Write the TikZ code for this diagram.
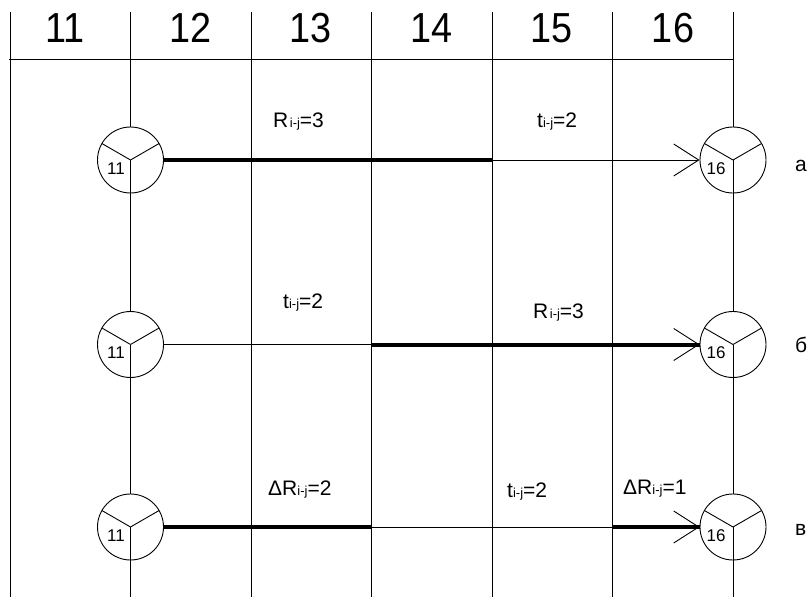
\documentclass[tikz,border=0pt]{standalone}
\usepackage{fontspec}
\setmainfont{Liberation Sans}
\newfontfamily\hdrfont[FakeStretch=0.9]{Liberation Sans}
\usetikzlibrary{arrows.meta}
\newcommand{\subij}{{\fontsize{13}{13}\selectfont i-j}}
\begin{document}
\begin{tikzpicture}[x=1pt,y=-1pt,
  gridline/.style={line width=0.9pt},
  ev/.style={circle, draw, line width=0.9pt, fill=white, minimum size=66pt, inner sep=0pt},
  thinarc/.style={line width=0.9pt},
  thickarc/.style={line width=4pt},
  arr/.style={-{Straight Barb[length=25pt,width=32pt]}},
  lab/.style={anchor=base west, inner sep=0pt, font=\fontsize{21}{21}\selectfont},
  hdr/.style={anchor=base, inner sep=0pt, font=\hdrfont\fontsize{42}{42}\selectfont},
  num/.style={anchor=base, inner sep=0pt, font=\fontsize{17}{17}\selectfont}]
\useasboundingbox (0,0) rectangle (809,597);
% grid
\foreach \x in {10,130.5,251,371.5,492,612.5,733}
  \draw[gridline] (\x,12) -- (\x,597);
\draw[gridline] (9,59) -- (734,59);
% header
\node[hdr] (h11) at (65,42.7) {11};
\node[hdr] (h12) at (190.5,42.7) {12};
\node[hdr] (h13) at (311,42.7) {13};
\node[hdr] (h14) at (431.5,42.7) {14};
\node[hdr] (h15) at (552,42.7) {15};
\node[hdr] (h16) at (673,42.7) {16};
% events
\foreach \r/\y in {a/160,b/344.5,c/527}{
  \node[ev] (l\r) at (130.5,\y) {};
  \node[ev] (r\r) at (733,\y) {};
  \foreach \n in {l\r,r\r}{
    \draw[thinarc] (\n.center) -- ++(-28.6,-16.5);
    \draw[thinarc] (\n.center) -- ++(28.6,-16.5);
    \draw[thinarc] (\n.center) -- ++(0,33);
  }
  \node[num] (tl\r) at ([xshift=-14.5pt,yshift=-14pt]l\r.center) {11};
  \node[num] (tr\r) at ([xshift=-17pt,yshift=-14pt]r\r.center) {16};
}
% row a
\coordinate (pa) at (492,160);
\draw[thickarc] (la.east) -- (pa);
\draw[thinarc,arr] (pa) -- (ra.west);
\node[lab] (a1) at (273,127) {R\kern1.5pt\subij=3};
\node[lab] (a2) at (537,127) {t\subij=2};
\node[lab] (na) at (795,171) {а};
% row b
\coordinate (pb) at (371.5,344.5);
\draw[thinarc] (lb.east) -- (pb);
\draw[thickarc] (pb) -- (rb.west);
\draw[thinarc,arr] (pb) -- (rb.west);
\node[lab] (b1) at (283,308) {t\subij=2};
\node[lab] (b2) at (533,318) {R\kern1.5pt\subij=3};
\node[lab] (nb) at (795,352) {б};
% row c
\coordinate (pc1) at (371.5,527);
\coordinate (pc2) at (612.5,527);
\draw[thickarc] (lc.east) -- (pc1);
\draw[thinarc] (pc1) -- (pc2);
\draw[thickarc] (pc2) -- (rc.west);
\draw[thinarc,arr] (pc2) -- (rc.west);
\node[lab] (c1) at (268,495) {ΔR\subij=2};
\node[lab] (c2) at (507,497) {t\subij=2};
\node[lab] (c3) at (623,494) {ΔR\subij=1};
\node[lab] (nc) at (795,535) {в};
\end{tikzpicture}
\end{document}
